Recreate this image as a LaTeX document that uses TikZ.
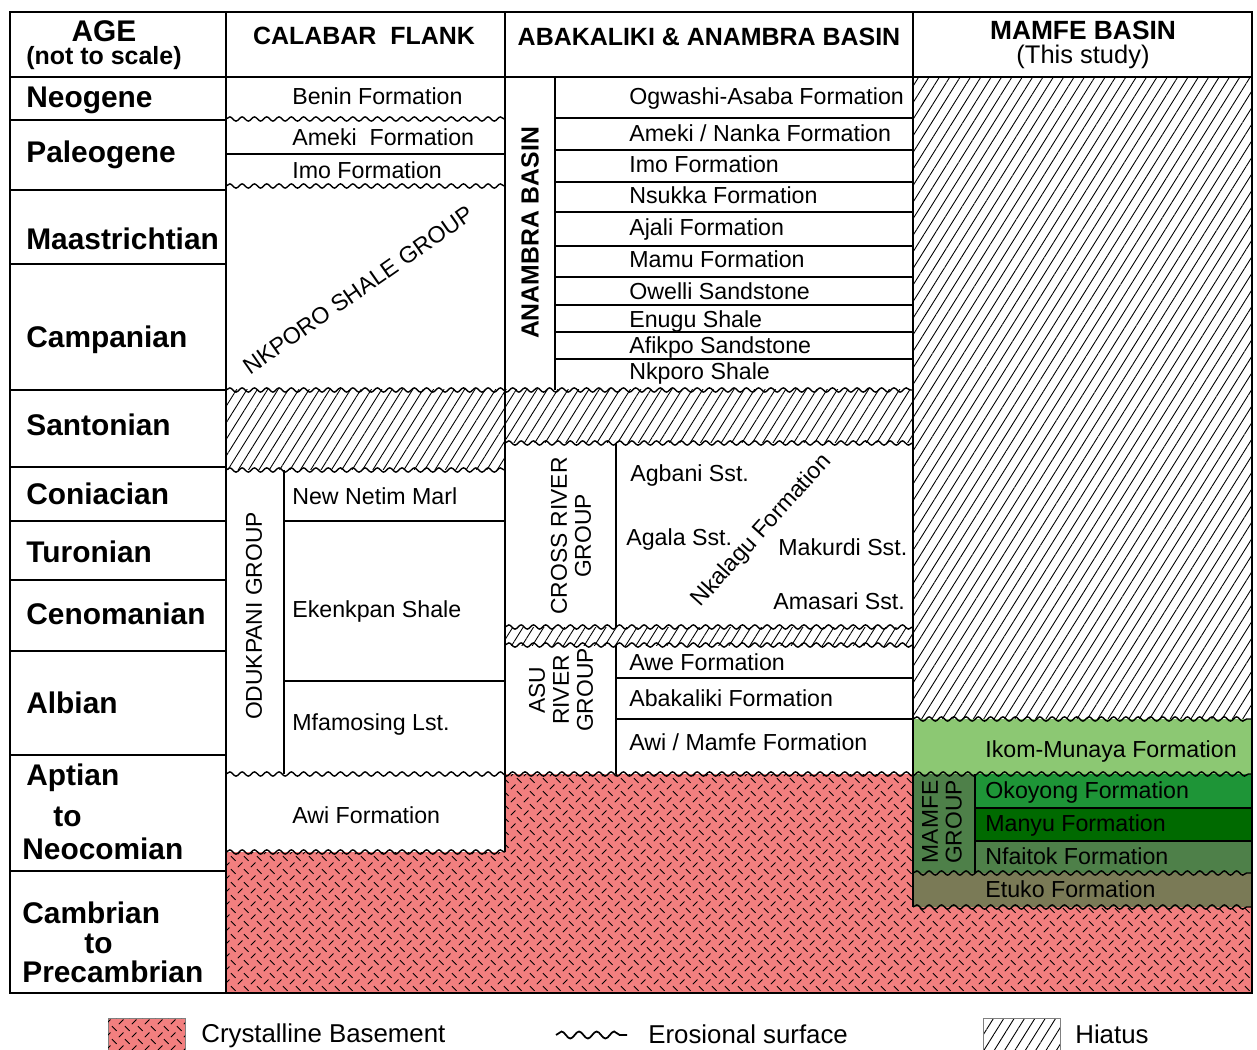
\documentclass[tikz,border=0pt]{standalone}
\usepackage{fontspec}
\setmainfont{Liberation Sans}
\usetikzlibrary{decorations.pathmorphing,patterns.meta}

\definecolor{bsmt}{HTML}{F27F7F}
\definecolor{ikom}{HTML}{8CC873}
\definecolor{okoyong}{HTML}{1E9537}
\definecolor{manyu}{HTML}{006A00}
\definecolor{nfaitok}{HTML}{4E8049}
\definecolor{etuko}{HTML}{7A7A56}

% dashes in two directions for the basement rocks
\tikzdeclarepattern{
  name=dashhatch, type=uncolored,
  bottom left={(0pt,0pt)}, top right={(7.5pt,7.5pt)}, tile size={(7.5pt,7.5pt)},
  code={
    \draw[line width=.55pt] (.5pt,.5pt) -- (3.3pt,3.3pt);
    \draw[line width=.55pt] (4.2pt,7.1pt) -- (7pt,4.3pt);
  }
}

\begin{document}
\begin{tikzpicture}[x=0.02cm, y=-0.02cm,
      frame/.style={line width=1.6pt},
      col/.style={line width=1.4pt},
      thinline/.style={line width=.7pt},
      wavy/.style={line width=.8pt, decorate, decoration={snake, segment length=7pt, amplitude=1.2pt}},
      hiatus/.style={pattern={Lines[angle=58, distance=5pt, line width=.5pt]}},
      crystal/.style={fill=bsmt, postaction={pattern=dashhatch}},
      hdr/.style={font=\bfseries\fontsize{14.2}{16}\selectfont},
      age/.style={anchor=base west, inner sep=0pt, font=\bfseries\fontsize{17}{19}\selectfont},
      fm/.style={anchor=base west, inner sep=0pt, font=\fontsize{13.2}{15}\selectfont},
      grp/.style={rotate=90, inner sep=0pt, align=center, font=\fontsize{13}{13.6}\selectfont},
      legend/.style={anchor=base west, inner sep=0pt, font=\fontsize{14.7}{16}\selectfont}]
    \useasboundingbox (0,0) rectangle (1257,1050);

    % hiatus and basement fills
    \fill[hiatus] (913,77) rectangle (1252,719);
    \fill[hiatus] (226,390) rectangle (505,470);
    \fill[hiatus] (505,390) rectangle (913,443);
    \fill[hiatus] (505,627) rectangle (913,645);
    \path[crystal] (226,852) -- (505,852) -- (505,774) -- (913,774) -- (913,907)
        -- (1252,907) -- (1252,993) -- (226,993) -- cycle;

    % mamfe basin units
    \fill[ikom] (913,719) rectangle (1252,774);
    \fill[okoyong] (975,774) rectangle (1252,808);
    \fill[manyu] (975,808) rectangle (1252,841);
    \fill[nfaitok] (975,841) rectangle (1252,873);
    \fill[nfaitok] (913,774) rectangle (975,873);
    \fill[etuko] (913,873) rectangle (1252,907);

    % age rows
    \draw[thinline] (10,120) -- (226,120);
    \draw[thinline] (10,190) -- (226,190);
    \draw[thinline] (10,264) -- (226,264);
    \draw[thinline] (10,390) -- (226,390);
    \draw[thinline] (10,467) -- (226,467);
    \draw[thinline] (10,521) -- (226,521);
    \draw[thinline] (10,580) -- (226,580);
    \draw[thinline] (10,651) -- (226,651);
    \draw[thinline] (10,755) -- (226,755);
    \draw[thinline] (10,871) -- (226,871);

    % columns
    \draw[col] (10,77) -- (1252,77);
    \draw[col] (226,12) -- (226,993);
    \draw[col] (505,12) -- (505,852);
    \draw[col] (913,12) -- (913,907);
    \draw[col] (555,77) -- (555,390);
    \draw[thinline] (284,470) -- (284,774);
    \draw[thinline] (616,443) -- (616,627);
    \draw[thinline] (616,645) -- (616,774);
    \draw[thinline] (975,774) -- (975,873);

    % calabar flank
    \draw[thinline] (226,154) -- (505,154);
    \draw[thinline] (284,521) -- (505,521);
    \draw[thinline] (284,681) -- (505,681);
    \draw[wavy] (226,119) -- (505,119);
    \draw[wavy] (226,186) -- (505,186);
    \draw[wavy] (226,390) -- (913,390);
    \draw[wavy] (226,470) -- (505,470);
    \draw[wavy] (226,774) -- (1252,774);
    \draw[wavy] (226,852) -- (505,852);

    % abakaliki and anambra
    \draw[thinline] (555,118) -- (913,118);
    \draw[thinline] (555,150) -- (913,150);
    \draw[thinline] (555,182) -- (913,182);
    \draw[thinline] (555,212) -- (913,212);
    \draw[thinline] (555,246) -- (913,246);
    \draw[thinline] (555,277) -- (913,277);
    \draw[thinline] (555,305) -- (913,305);
    \draw[thinline] (555,332) -- (913,332);
    \draw[thinline] (555,359) -- (913,359);
    \draw[thinline] (616,678) -- (913,678);
    \draw[thinline] (616,719) -- (913,719);
    \draw[wavy] (505,443) -- (913,443);
    \draw[wavy] (505,627) -- (913,627);
    \draw[wavy] (505,645) -- (913,645);

    % mamfe
    \draw[thinline] (975,808) -- (1252,808);
    \draw[thinline] (975,841) -- (1252,841);
    \draw[wavy] (913,719) -- (1252,719);
    \draw[wavy] (913,873) -- (1252,873);
    \draw[wavy] (913,907) -- (1252,907);

    \draw[frame] (10,12) rectangle (1252,993);

    % headers
    \node[hdr, font=\bfseries\fontsize{17}{19}\selectfont] at (104,31) (agehd) {AGE};
    \node[hdr] at (104,58) (agenote) {(not to scale)};
    \node[hdr] at (364,36) (calhd) {CALABAR\ \ FLANK};
    \node[hdr] at (709,37) (abahd) {ABAKALIKI \& ANAMBRA BASIN};
    \node[hdr, font=\bfseries\fontsize{15}{17}\selectfont] at (1083,30) (mamhd) {MAMFE BASIN};
    \node[font=\fontsize{14.5}{16}\selectfont] at (1083,57) (mamnote) {(This study)};

    % ages
    \node[age] at (26,108) (neog) {Neogene};
    \node[age] at (26,163) (paleog) {Paleogene};
    \node[age] at (26,250) (maas) {Maastrichtian};
    \node[age] at (26,348) (camp) {Campanian};
    \node[age] at (26,436) (sant) {Santonian};
    \node[age] at (26,504) (coni) {Coniacian};
    \node[age] at (26,562) (turo) {Turonian};
    \node[age] at (26,624) (ceno) {Cenomanian};
    \node[age] at (26,713) (albi) {Albian};
    \node[age] at (26,785) (apt) {Aptian};
    \node[age] at (53,826) (aptto) {to};
    \node[age] at (22,859) (neoc) {Neocomian};
    \node[age] at (22,923) (camb) {Cambrian};
    \node[age] at (84,953) (cambto) {to};
    \node[age] at (22,982) (precamb) {Precambrian};

    % calabar flank units
    \node[fm] at (292,105) (benin) {Benin Formation};
    \node[fm] at (292,146) (amekic) {Ameki\ \ Formation};
    \node[fm] at (292,179) (imoc) {Imo Formation};
    \node[fm, anchor=center, rotate=35] at (358,290) (nkporogrp) {NKPORO SHALE GROUP};
    \node[grp] at (254,616) (odukpani) {ODUKPANI GROUP};
    \node[fm] at (292,504) (netim) {New Netim Marl};
    \node[fm] at (292,617) (ekenkpan) {Ekenkpan Shale};
    \node[fm] at (292,730) (mfamosing) {Mfamosing Lst.};
    \node[fm] at (292,823) (awic) {Awi Formation};

    % abakaliki and anambra units
    \node[grp, font=\bfseries\fontsize{14.1}{15}\selectfont] at (530,233) (anambra) {ANAMBRA BASIN};
    \node[fm] at (629,105) (ogwashi) {Ogwashi-Asaba Formation};
    \node[fm] at (629,142) (nanka) {Ameki / Nanka Formation};
    \node[fm] at (629,173) (imoa) {Imo Formation};
    \node[fm] at (629,204) (nsukka) {Nsukka Formation};
    \node[fm] at (629,236) (ajali) {Ajali Formation};
    \node[fm] at (629,268) (mamu) {Mamu Formation};
    \node[fm] at (629,300) (owelli) {Owelli Sandstone};
    \node[fm] at (629,328) (enugu) {Enugu Shale};
    \node[fm] at (629,354) (afikpo) {Afikpo Sandstone};
    \node[fm] at (629,380) (nkporo) {Nkporo Shale};
    \node[grp] at (571,536) (crossriver) {CROSS RIVER\\GROUP};
    \node[fm] at (630,481) (agbani) {Agbani Sst.};
    \node[fm] at (626,545) (agala) {Agala Sst.};
    \node[fm] at (778,555) (makurdi) {Makurdi Sst.};
    \node[fm] at (773,609) (amasari) {Amasari Sst.};
    \node[fm, anchor=center, rotate=48] at (762,531) (nkalagu) {Nkalagu Formation};
    \node[grp] at (561,690) (asuriver) {ASU\\RIVER\\GROUP};
    \node[fm] at (629,670) (awe) {Awe Formation};
    \node[fm] at (629,706) (abakaliki) {Abakaliki Formation};
    \node[fm] at (629,750) (awimamfe) {Awi / Mamfe Formation};

    % mamfe units
    \node[fm] at (985,757) (ikomfm) {Ikom-Munaya Formation};
    \node[grp] at (942,822) (mamfegrp) {MAMFE\\GROUP};
    \node[fm] at (985,798) (okoyongfm) {Okoyong Formation};
    \node[fm] at (985,831) (manyufm) {Manyu Formation};
    \node[fm] at (985,864) (nfaitokfm) {Nfaitok Formation};
    \node[fm] at (985,897) (etukofm) {Etuko Formation};

    % legend
    \path[crystal, draw=gray, thin] (108,1018) rectangle (185,1052);
    \node[legend] at (201,1042) (lgbsmt) {Crystalline Basement};
    \coordinate (lgw1) at (556,1035); \coordinate (lgw2) at (627,1035);
    \draw[wavy, line width=1pt, decoration={snake, segment length=10pt, amplitude=2pt}] (lgw1) -- (lgw2);
    \node[legend] at (648,1043) (lgero) {Erosional surface};
    \path[hiatus, draw=gray, thin] (983,1018) rectangle (1060,1052);
    \node[legend] at (1075,1043) (lghia) {Hiatus};
      \end{tikzpicture}
\end{document}
